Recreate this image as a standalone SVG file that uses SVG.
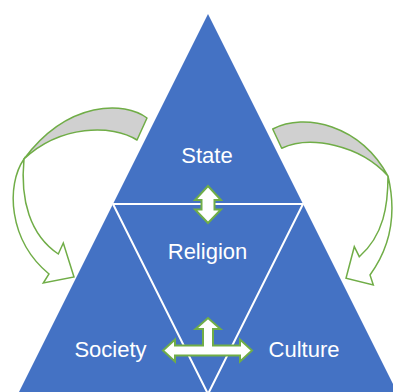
<svg xmlns="http://www.w3.org/2000/svg" width="393" height="392" viewBox="0 0 393 392">
<style>
.tri{fill:#4472C4}
.div{stroke:#FFFFFF;stroke-width:2;fill:none}
.lbl{font-family:"Liberation Sans",Arial,sans-serif;font-size:22px;fill:#FFFFFF;text-anchor:middle}
.arr{fill:#FFFFFF;stroke:#70AD47;stroke-width:2;stroke-linejoin:miter}
.back{fill:#D0D0D0;stroke:#70AD47;stroke-width:1.5;stroke-linejoin:round}
.front{fill:#FFFFFF;stroke:#70AD47;stroke-width:1.5;stroke-linejoin:miter}
</style>
<rect width="393" height="392" fill="#FFFFFF"/>
<g id="state">
<polygon class="tri" points="208,14 303,204 113,204"/>
<text class="lbl" x="207" y="163">State</text>
</g>
<g id="society">
<polygon class="tri" points="113,204 208,394 18,394"/>
<text class="lbl" x="110.5" y="357">Society</text>
</g>
<g id="culture">
<polygon class="tri" points="303,204 398,394 208,394"/>
<text class="lbl" x="304" y="357">Culture</text>
</g>
<g id="religion">
<polygon class="tri" points="113,204 303,204 208,394"/>
<text class="lbl" x="207.5" y="259">Religion</text>
</g>
<g id="dividers">
<polyline class="div" points="113,204 303,204 208,394 113,204"/>
</g>
<g id="connectors">
<path class="back" d="M147,118 C125,101 68,100 24,159 C60,125 112,124 137,140 Z"/>
<path class="front" d="M24,159 C6,185 8,240 49,274 L43.3,283 L74,277 L63.3,243 L58.3,254 C30,235 20,200 24,159 Z"/>
<path class="back" d="M272.7,129 C305,112 360,125 388,176 C360,145 310,135 281.7,148.3 Z"/>
<path class="front" d="M388,176 C396,210 392,245 370,275 L373.3,285 L346,278.3 L354.3,246.7 L359.3,256.7 C384,235 388,205 388,176 Z"/>
<polygon class="arr" points="208,186 221,200 214.5,200 214.5,209.5 221,209.5 208,223 195,209.5 201.5,209.5 201.5,200 195,200"/>
<polygon class="arr" points="163,350.5 175,339.5 175,345.5 203,345.5 203,329 195.5,329 208,318 220.5,329 213,329 213,345.5 240,345.5 240,339.5 252,350.5 240,361.5 240,355.5 175,355.5 175,361.5"/>
</g>
</svg>
